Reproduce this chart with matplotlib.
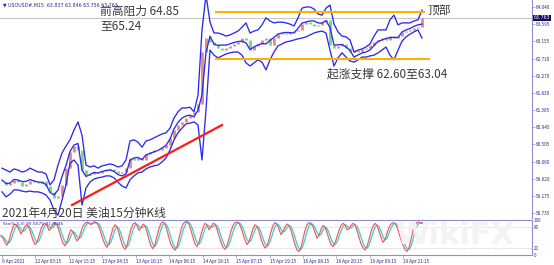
import numpy as np
import pandas as pd
import matplotlib
matplotlib.use('Agg')
import matplotlib.pyplot as plt

plt.rcParams['font.family'] = ['Noto Sans CJK SC', 'DejaVu Sans']

# ---------------- data ----------------
close_early = [59.53, 59.46, 59.51, 59.59, 59.53, 59.43, 59.48, 59.56, 59.53, 59.51,
               59.56, 59.43, 59.28, 59.12, 59.17, 59.46, 59.89, 60.31, 60.46, 60.36,
               59.84, 59.71, 59.74, 59.79, 59.77, 59.82, 59.84, 59.87, 59.82, 59.77,
               59.79, 59.89, 60.15, 60.10, 60.15, 60.10, 60.25, 60.31, 60.36, 60.36,
               60.41, 60.49, 60.67, 60.87, 61.00, 61.08, 61.18, 61.26, 61.34, 61.54,
               62.88, 63.24]
close_range = [63.14, 63.06, 62.98, 62.93, 62.98, 63.04, 63.09, 63.14, 63.24, 63.19,
               62.93, 63.04, 63.09, 63.19, 63.24, 63.06, 63.24, 63.34, 63.37, 63.34,
               63.40, 63.42, 63.45, 63.60, 63.65, 63.60, 63.55, 63.58, 63.65, 63.71,
               63.06, 62.98, 63.04, 63.09, 62.98, 62.88, 62.93, 62.88, 62.96, 62.98,
               63.06, 63.14, 63.19, 63.24, 63.19, 63.29, 63.24, 63.29, 63.40, 63.42,
               63.45, 63.50, 63.52, 63.76]
upper_early = [59.89, 59.84, 59.79, 59.87, 59.84, 59.79, 59.82, 59.89, 59.84, 59.79,
               59.79, 59.74, 59.46, 59.59, 59.97, 60.28, 60.46, 60.62, 60.87, 61.08,
               60.74, 59.97, 59.92, 59.95, 59.89, 59.95, 59.97, 60.00, 59.97, 59.92,
               59.95, 60.10, 60.59, 60.62, 60.56, 60.43, 60.59, 60.62, 60.67, 60.72,
               60.77, 60.80, 60.92, 61.18, 61.34, 61.44, 61.44, 61.46, 61.34, 61.77,
               63.45, 64.35]
upper_range = [63.65, 63.37, 63.37, 63.34, 63.29, 63.32, 63.37, 63.42, 63.52, 63.63,
               63.37, 63.42, 63.45, 63.58, 63.76, 63.68, 63.63, 63.65, 63.65, 63.63,
               63.60, 63.55, 63.76, 64.01, 64.04, 64.04, 63.99, 63.86, 63.83, 64.01,
               64.09, 63.60, 63.40, 63.29, 63.27, 63.19, 62.88, 62.93, 62.96, 63.01,
               63.09, 63.29, 63.45, 63.45, 63.45, 63.71, 63.83, 63.58, 63.63, 63.63,
               63.63, 63.68, 63.71, 63.96]
lower_early = [59.28, 59.15, 59.22, 59.33, 59.33, 59.30, 59.28, 59.30, 59.28, 59.28,
               59.25, 59.20, 59.07, 58.81, 58.68, 59.07, 59.46, 60.02, 60.10, 59.97,
               58.94, 59.38, 59.53, 59.61, 59.64, 59.66, 59.69, 59.69, 59.64, 59.53,
               59.43, 59.38, 59.59, 59.69, 59.77, 59.79, 59.87, 59.92, 59.95, 59.97,
               60.05, 60.15, 60.36, 60.62, 60.80, 60.92, 61.03, 61.05, 61.08, 61.00,
               60.10, 61.39]
lower_range = [62.93, 62.80, 62.73, 62.78, 62.83, 62.86, 62.88, 62.88, 62.80, 62.60,
               62.52, 62.60, 62.68, 62.62, 62.42, 62.68, 62.88, 63.04, 63.09, 63.14,
               63.16, 63.19, 63.22, 63.24, 63.27, 63.32, 63.37, 63.40, 63.42, 63.37,
               62.93, 62.52, 62.73, 62.86, 62.75, 62.65, 62.62, 62.68, 62.75, 62.75,
               62.78, 62.80, 62.86, 62.93, 63.01, 62.80, 62.68, 62.93, 63.16, 63.27,
               63.34, 63.40, 63.45, 63.24]

stoch_main = [55, 48, 35, 28, 40, 62, 80, 88, 84, 72,
              60, 70, 82, 86, 78, 60, 42, 30, 36, 55,
              74, 86, 90, 84, 70, 76, 88, 92, 86, 70,
              50, 34, 26, 38, 58, 72, 66, 52, 40, 48,
              66, 82, 90, 94, 90, 86, 92, 95, 90, 80,
              62, 44, 30, 22, 34, 56, 76, 86, 80, 62,
              40, 24, 16, 28, 52, 74, 88, 92, 84, 70,
              78, 88, 84, 66, 44, 26, 18, 30, 54, 76,
              90, 94, 88, 70, 48, 30, 20, 14, 24, 48,
              72, 88, 94, 96, 88, 70, 50, 32, 24, 36,
              58, 78, 90, 86, 72, 80, 90, 88, 74, 54,
              36, 22, 16, 26, 46, 68, 84, 92, 94, 90,
              78, 60, 42, 30, 38, 56, 74, 86, 82, 66,
              46, 30, 20, 26, 44, 66, 84, 92, 88, 74,
              58, 66, 80, 88, 84, 70, 50, 30, 14, 10,
              22, 46, 70, 86, 92, 90, 80, 64, 48, 56,
              72, 84, 80, 64, 46, 30, 24, 34, 52, 70,
              84, 90, 86, 72, 74, 84, 90, 86, 70, 50,
              32, 20, 14, 24, 44, 66, 82, 90, 84, 68,
              50, 36, 44, 62, 78, 88, 92, 90, 80, 62,
              44, 28, 16, 10, 20, 44, 70, 86, 92, 94,
              90, 91]

price_ticks = [64.040, 63.595, 63.155, 62.710, 62.270, 61.830, 61.385,
               60.945, 60.505, 60.060, 59.620, 59.175, 58.735]
date_labels = ['9 Apr 2021', '12 Apr 03:15', '12 Apr 15:15', '13 Apr 04:15',
               '13 Apr 16:15', '14 Apr 06:15', '14 Apr 18:15', '15 Apr 07:15',
               '15 Apr 19:15', '16 Apr 08:15', '16 Apr 20:15', '19 Apr 09:15',
               '19 Apr 21:15']
stoch_levels = [80, 20]
stoch_tick_labels = ['100', '80', '20', '0']
last_price = 63.763
resistance_price = 63.92
support_price = 62.70
trend_prices = [58.94, 61.00]
header_text = 'USOUSD#,M15  63.837 63.846 63.756 63.763'
stoch_header = 'Sto(5,3,3) 90.5675 91.0046'

# ---------------- figure ----------------
W, H = 554, 265
fig = plt.figure(figsize=(W / 100, H / 100), dpi=100)
fig.patch.set_facecolor('white')

def px_rect(x0, y0, x1, y1):
    return [x0 / W, 1 - y1 / H, (x1 - x0) / W, (y1 - y0) / H]

ax = fig.add_axes(px_rect(0, 0, 532, 218))
ax2 = fig.add_axes(px_rect(0, 219.5, 532, 255))

close = np.array(close_early + close_range)
upper = np.array(upper_early + upper_range)
lower = np.array(lower_early + lower_range)
middle = (upper + lower) / 2
n = len(close)
xi = np.arange(n)
opens = np.concatenate([[close[0]], close[:-1]])

axis_col = '#8f8fd0'
label_col = '#2b2b8c'

# candles
up = close >= opens
ax.vlines(xi[up], opens[up], close[up], color='#ec8a8a', lw=2.1, zorder=3)
ax.vlines(xi[~up], close[~up], opens[~up], color='#74dc74', lw=2.1, zorder=3)
# bollinger bands
for s in (upper, middle, lower):
    ax.plot(xi, s, color='#2a2af0', lw=0.95, zorder=4)

# bid line
ax.axhline(last_price, color='#c8c8c8', lw=0.8, zorder=1)

# support / resistance lines
x_res = [53.2, 105.8]
x_sup = [53.2, 107.0]
ax.plot(x_res, [resistance_price] * 2, color='#ffb000', lw=1.5, zorder=5, solid_capstyle='butt')
ax.plot(x_sup, [support_price] * 2, color='#ffb000', lw=1.5, zorder=5, solid_capstyle='butt')
# trend line
ax.plot([17.5, 55.0], trend_prices, color='#ff1a1a', lw=1.6, zorder=5)

ax.set_xlim(-0.5, 132.5)
ax.set_ylim(64.22 - 218 * 0.02575, 64.22)
for sp in ('top', 'left', 'bottom'):
    ax.spines[sp].set_visible(False)
ax.spines['right'].set_color(axis_col)
ax.spines['right'].set_linewidth(0.8)
ax.set_xticks([])
ax.yaxis.tick_right()
ax.set_yticks(price_ticks)
ax.set_yticklabels([f'{t:.3f}' for t in price_ticks])
ax.tick_params(axis='y', colors=label_col, labelsize=3.4, length=2, width=0.5, pad=1)
ax.tick_params(axis='y', color=axis_col)

# current price tag
ax.text(132.9, last_price, f'{last_price:.3f}', transform=ax.transData,
        fontsize=3.4, color='white', va='center', ha='left', family='DejaVu Sans',
        bbox=dict(boxstyle='square,pad=0.15', fc='#10105a', ec='none'), clip_on=False, zorder=10)

# stochastic
k = np.array(stoch_main, dtype=float)
d = pd.Series(k).rolling(3, min_periods=1).mean().values
sx = (np.arange(len(k)) * 2 - 1) / 4
ax2.plot(sx, d, color='#38d0d0', lw=0.9, zorder=3)
ax2.plot(sx, k, color='#f06060', lw=0.9, zorder=4)
for lv in stoch_levels:
    ax2.axhline(lv, color='#b0b0b0', lw=0.5, ls=(0, (1, 1.5)), zorder=1)
ax2.set_xlim(-0.5, 132.5)
ax2.set_ylim(0, 101)
for sp in ('top', 'bottom', 'right'):
    ax2.spines[sp].set_color(axis_col)
    ax2.spines[sp].set_linewidth(0.8)
ax2.spines['left'].set_visible(False)
ax2.yaxis.tick_right()
ax2.set_yticks([100, 80, 20, 0])
ax2.set_yticklabels(stoch_tick_labels)
ax2.tick_params(axis='y', colors=label_col, labelsize=3.2, length=0, pad=1)
date_pos = np.arange(len(date_labels)) * 8.36
ax2.set_xticks(date_pos)
ax2.set_xticklabels(date_labels, ha='left')
ax2.tick_params(axis='x', colors=label_col, labelsize=3.4, length=2, width=0.5, pad=1)
ax2.tick_params(axis='x', color=axis_col)

# texts
def ftext(x, y, s, **kw):
    fig.text(x / W, 1 - y / H, s, **kw)

txt_col = '#3a3a3a'
ftext(100, 11, '前高阻力 64.85', fontsize=8.5, color=txt_col, va='center', ha='left')
ftext(100, 26, '至65.24', fontsize=8.5, color=txt_col, va='center', ha='left')
ftext(428, 11, '顶部', fontsize=8.5, color=txt_col, va='center', ha='left')
ftext(327, 74, '起涨支撑 62.60至63.04', fontsize=8.5, color=txt_col, va='center', ha='left')
ftext(2, 213, '2021年4月20日 美油15分钟K线', fontsize=8.5, color=txt_col, va='center', ha='left')
ftext(3, 5, '▼ ' + header_text, fontsize=3.4, color=label_col, va='center', ha='left',
      family='DejaVu Sans')
ftext(3, 224, stoch_header, fontsize=3.2, color=label_col, va='center', ha='left',
      family='DejaVu Sans')
ftext(455, 236, 'WikiFX', fontsize=22, color='#f3f3f3', va='center', ha='center',
      weight='bold', family='DejaVu Sans', zorder=0)

fig.savefig('out.png', dpi=100, facecolor='white')
